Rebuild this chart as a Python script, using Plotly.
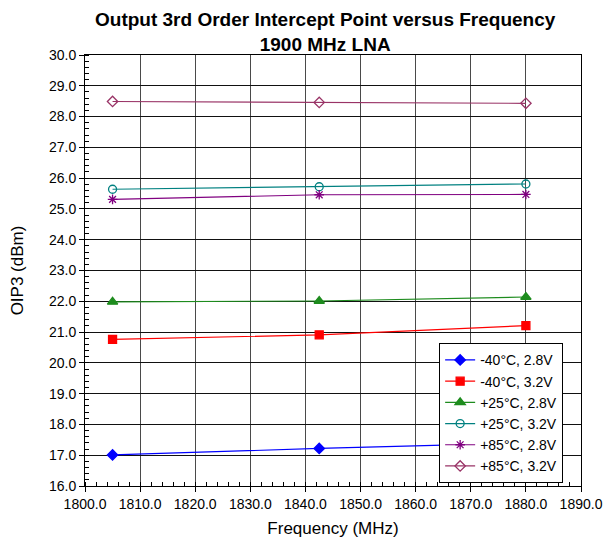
import plotly.graph_objects as go

freq_mhz = [1805.0, 1842.5, 1880.0]

series_names = ["-40°C, 2.8V", "-40°C, 3.2V", "+25°C, 2.8V",
                "+25°C, 3.2V", "+85°C, 2.8V", "+85°C, 3.2V"]
oip3_m40_28 = [17.01, 17.22, 17.40]
oip3_m40_32 = [20.76, 20.91, 21.21]
oip3_p25_28 = [21.98, 22.01, 22.14]
oip3_p25_32 = [25.64, 25.72, 25.81]
oip3_p85_28 = [25.31, 25.46, 25.47]
oip3_p85_32 = [28.49, 28.46, 28.43]

x_ticks = [1800.0, 1810.0, 1820.0, 1830.0, 1840.0, 1850.0, 1860.0, 1870.0, 1880.0, 1890.0]
y_ticks = [16.0, 17.0, 18.0, 19.0, 20.0, 21.0, 22.0, 23.0, 24.0, 25.0,
           26.0, 27.0, 28.0, 29.0, 30.0]

title_lines = ["Output 3rd Order Intercept Point versus Frequency", "1900 MHz LNA"]

values = [oip3_m40_28, oip3_m40_32, oip3_p25_28, oip3_p25_32, oip3_p85_28, oip3_p85_32]
styles = [
    dict(color="#0000FF", symbol="diamond", size=8),
    dict(color="#FF0000", symbol="square", size=8),
    dict(color="#1E8C1E", symbol="triangle-up", size=9),
    dict(color="#008080", symbol="circle-open", size=8),
    dict(color="#800080", symbol="asterisk-open", size=8),
    dict(color="#993366", symbol="diamond-open", size=8),
]

FONT = "Liberation Sans, Arial, Helvetica, sans-serif"

fig = go.Figure()
for name, vals, st in zip(series_names, values, styles):
    fig.add_trace(go.Scatter(
        x=freq_mhz, y=vals, name=name, mode="lines+markers",
        line=dict(color=st["color"], width=1.2),
        marker=dict(symbol=st["symbol"], size=st["size"], color=st["color"],
                    line=dict(color=st["color"], width=1.3)),
    ))

# the page body adds an 8 px offset, so the figure is sized to compensate
fig.update_layout(
    width=607, height=537,
    margin=dict(l=77, r=34, t=47, b=59, autoexpand=False),
    paper_bgcolor="white", plot_bgcolor="white",
    font=dict(family=FONT, size=14, color="black"),
    showlegend=True,
    legend=dict(
        x=0.714, xanchor="left", y=0.331, yanchor="top",
        bgcolor="white", bordercolor="black", borderwidth=1,
        font=dict(family=FONT, size=14, color="black"),
        tracegroupgap=0, itemwidth=30,
    ),
)

fig.add_annotation(text="<b>%s</b><br><b>%s</b>" % (title_lines[0], title_lines[1]),
                   xref="paper", yref="paper", align="center",
                   x=0.484, y=1.1088, xanchor="center", yanchor="top", showarrow=False,
                   borderpad=0, font=dict(family=FONT, size=19, color="black"))

fig.update_xaxes(
    range=[1800, 1890], tickvals=x_ticks, tickformat=".1f", automargin=False,
    showgrid=True, gridcolor="#4a4a4a", gridwidth=1.3,
    showline=True, linecolor="black", linewidth=1, mirror=True,
    ticks="outside", ticklen=5, tickcolor="black",
    tickfont=dict(family=FONT, size=14),
    minor=dict(dtick=2, ticks="inside", ticklen=4, tickcolor="black", showgrid=False),
    title=dict(text="Frequency (MHz)", font=dict(family=FONT, size=17), standoff=11),
    zeroline=False,
)
fig.update_yaxes(
    range=[16, 30], tickvals=y_ticks, tickformat=".1f", automargin=False,
    showgrid=True, gridcolor="#111111", gridwidth=1,
    showline=True, linecolor="black", linewidth=1, mirror=True,
    ticks="outside", ticklen=5, tickcolor="black",
    tickfont=dict(family=FONT, size=14),
    minor=dict(dtick=0.2, ticks="inside", ticklen=4, tickcolor="black", showgrid=False),
    title=dict(text="OIP3 (dBm)", font=dict(family=FONT, size=17), standoff=23),
    zeroline=False,
)

fig.write_html("out.html")
